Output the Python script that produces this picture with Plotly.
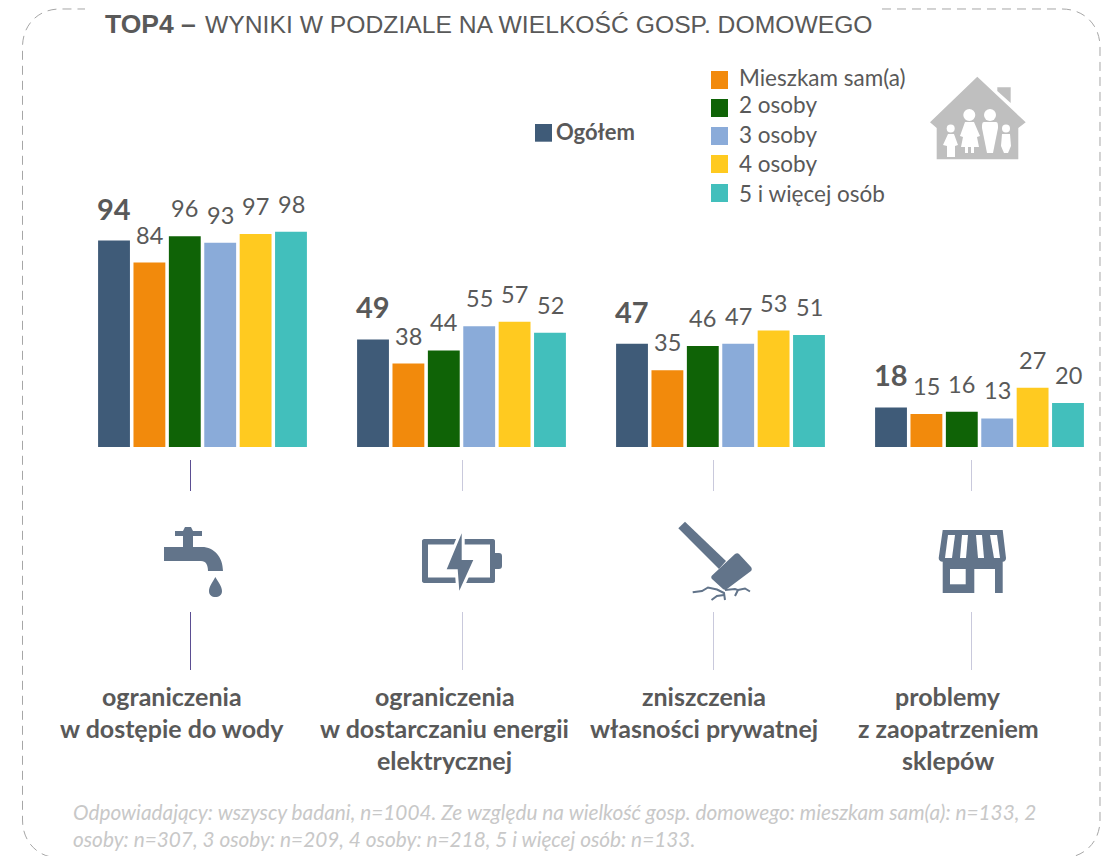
import re
import plotly.graph_objects as go

W, H = 1109, 856
categories = ["ograniczenia w dostępie do wody", "ograniczenia w dostarczaniu energii elektrycznej",
              "zniszczenia własności prywatnej", "problemy z zaopatrzeniem sklepów"]
series_names = ["Ogółem", "Mieszkam sam(a)", "2 osoby", "3 osoby", "4 osoby", "5 i więcej osób"]
ogolem = [94, 49, 47, 18]
sam = [84, 38, 35, 15]
dwie = [96, 44, 46, 16]
trzy = [93, 55, 47, 13]
cztery = [97, 57, 53, 27]
piec = [98, 52, 51, 20]
all_values = [ogolem, sam, dwie, trzy, cztery, piec]
colors = ["#3F5B78", "#F28A0C", "#0F6306", "#8AABD9", "#FFCA20", "#42BFBC"]

cat_lines = [["ograniczenia", "w dostępie do wody"],
             ["ograniczenia", "w dostarczaniu energii", "elektrycznej"],
             ["zniszczenia", "własności prywatnej"],
             ["problemy", "z zaopatrzeniem", "sklepów"]]
cat_x = [172, 444.5, 703.5, 948]
cat_y = [696, 728, 760]
foot = ["Odpowiadający: wszyscy badani, n=1004. Ze względu na wielkość gosp. domowego: mieszkam sam(a): n=133, 2",
        "osoby: n=307, 3 osoby: n=209, 4 osoby: n=218, 5 i więcej osób: n=133."]

FONT = "Lato"
TXT = "#595959"
ICON = "#62748A"
HOUSE = "#BFBFBF"


def fx(x): return x / W
def fy(y): return 1 - y / H


def P(d):
    toks = re.findall(r"[MLCQZ]|-?\d+\.?\d*", d)
    out, i = [], 0
    while i < len(toks):
        t = toks[i]
        if t in "MLCQZ":
            out.append(t)
            i += 1
        else:
            out.append(f"{fx(float(t)):.5f},{fy(float(toks[i + 1])):.5f}")
            i += 2
    return " ".join(out)


shapes = []


def path(d, fill=None, line=None, width=0, dash=None):
    s = dict(type="path", path=P(d), xref="paper", yref="paper",
             fillcolor=fill or "rgba(0,0,0,0)",
             line=dict(color=line or "rgba(0,0,0,0)", width=width))
    if dash:
        s["line"]["dash"] = dash
    shapes.append(s)


def rect(x0, y0, x1, y1, fill):
    shapes.append(dict(type="rect", xref="paper", yref="paper", x0=fx(x0), x1=fx(x1),
                       y0=fy(y1), y1=fy(y0), fillcolor=fill, line=dict(width=0)))


def circ(cx, cy, r, fill):
    shapes.append(dict(type="circle", xref="paper", yref="paper", x0=fx(cx - r), x1=fx(cx + r),
                       y0=fy(cy + r), y1=fy(cy - r), fillcolor=fill, line=dict(width=0)))


def vline(x, y0, y1, c):
    shapes.append(dict(type="line", xref="paper", yref="paper", x0=fx(x), x1=fx(x),
                       y0=fy(y0), y1=fy(y1), line=dict(color=c, width=1)))


# dashed frame, left open behind the title
path("M 882 9 L 1062 9 C 1084 9 1100 25 1100 47 L 1100 820 C 1100 842 1084 858 1062 858 "
     "L 60 858 C 38 858 22.5 842 22.5 820 L 22.5 47 C 22.5 25 38 9 60 9 L 85 9",
     line="#A6A6A6", width=1, dash="9px,6px")

# separators
sep = ["#5B4E92", "#C9C9DC", "#C9C9DC", "#C9C9DC"]
for x, c in zip([190.5, 462.5, 713.5, 971.5], sep):
    vline(x, 460, 491, c)
    vline(x, 612, 670, c)

# tap
path("M 175 531 L 183 531 L 185 527 L 191 527 L 193 531 L 202 531 L 202 536 L 193 536 L 193 547 L 202 547 "
     "C 214 547 223 557 223 571 L 208 571 C 208 565 206 561 201 561 L 164 561 L 164 547 L 183 547 L 183 536 L 175 536 Z",
     fill=ICON)
path("M 215.3 577 C 218 582 222 586 222 591 C 222 595 219 597 215.3 597 C 212 597 209 595 209 591 C 209 586 213 582 215.3 577 Z", fill=ICON)

# battery
path("M 424 539 L 493 539 C 494.5 539 495 540 495 541 L 495 553 L 499 553 C 501 553 502 554 502 556 L 502 566 "
     "C 502 568 501 569 499 569 L 495 569 L 495 581 C 495 582 494.5 583 493 583 L 424 583 C 423 583 422 582 422 581 L 422 541 C 422 540 423 539 424 539 Z",
     fill=ICON)
rect(428, 544.5, 490, 577.5, "#FFFFFF")
bolt = "M 461.7 533.3 L 446.7 569.3 L 457.7 569.3 L 459.3 590.7 L 473.3 560 L 461.7 560 Z"
path(bolt, fill="#FFFFFF", line="#FFFFFF", width=6)
path(bolt, fill=ICON)

# hammer
path("M 685 521.7 L 726 561 L 719 569 L 678.3 528.3 Z", fill=ICON)
path("M 735 554 C 736.5 553 738 553 739 554 L 751 567 C 752 568.5 752 570 751 571 L 727 589 C 725.5 590 724 590 723 589 "
     "L 712 579 C 711 578 711 576.5 712 575.5 Z", fill=ICON)
path("M 692.7 592.3 L 702 591 L 708 587.5 L 717 589.5 L 724 593 L 725 600", line=ICON, width=2)
path("M 711.5 600 L 717 596 L 724 595", line=ICON, width=2)
path("M 725 590 L 735 589 L 738 590 L 735 596", line=ICON, width=2)
path("M 738 590 L 745 588.5 L 750 591.5", line=ICON, width=2)

# shop
path("M 942.7 530 L 1002.7 530 L 1006 558 C 1006 560 1005 561.7 1002.7 561.7 L 1002.7 593 L 942.7 593 L 942.7 561.7 "
     "C 940 561.7 938.7 560 938.7 558 Z", fill=ICON)
rect(950, 569, 965.7, 584.3, "#FFFFFF")
rect(974.3, 569, 995, 593, "#FFFFFF")
for a, b, c, d in [(948, 955, 952, 945), (962, 968, 966, 960), (976, 982, 984, 978), (990, 997, 1000, 994)]:
    path(f"M {a} 535 L {b} 535 L {c} 558 L {d} 558 Z", fill="#FFFFFF")

# house
path("M 977.3 76.7 L 1025.7 122.3 L 1018.3 128 L 1018.3 159.3 L 936.7 159.3 L 936.7 128 L 930 122.3 Z", fill=HOUSE)
path("M 997.3 87.3 L 1010.7 87.3 L 1010.7 103 L 997.3 91 Z", fill=HOUSE)
for cx, cy, r in [(950.7, 128.5, 4), (969.3, 115, 6), (990, 115, 6), (1006, 128.5, 4)]:
    circ(cx, cy, r, "#FFFFFF")
path("M 948 134 L 954 134 L 958 145 L 955 146 L 955 157 L 952 157 L 950 157 L 947 157 L 947 146 L 943 145 Z", fill="#FFFFFF")
path("M 965 122 L 974 122 L 980 136 L 977 137 L 979 147 L 974 147 L 974 153 L 971 153 L 971 147 L 968 147 L 968 153 L 965 153 L 965 147 L 961 147 L 963 137 L 960 136 Z", fill="#FFFFFF")
path("M 984 122 L 996 122 C 998 122 998 125 998 128 L 993 153 L 987 153 L 982 128 C 982 125 982 122 984 122 Z", fill="#FFFFFF")
path("M 1002 134 L 1010 134 L 1011 146 L 1008 153 L 1004 153 L 1001 146 Z", fill="#FFFFFF")

ann = []


def label(x, y, text, size, bold=False, color=TXT, anchor="center", italic=False, font=FONT):
    t = f"<b>{text}</b>" if bold else text
    if italic:
        t = f"<i>{t}</i>"
    ann.append(dict(text=t, x=fx(x), y=fy(y), xref="paper", yref="paper", xanchor=anchor, yanchor="middle",
                    showarrow=False, font=dict(family=font, size=size, color=color)))


# title
label(103, 24, "TOP4 –", 26.5, bold=True, anchor="left", font="Liberation Sans")
label(203, 25, "WYNIKI W PODZIALE NA WIELKOŚĆ GOSP. DOMOWEGO", 24.7, anchor="left", font="Liberation Sans")

# legend
rect(535, 124, 552, 141.7, colors[0])
label(554, 131, series_names[0], 22, bold=True, anchor="left")
for name, c, y0, ty in zip(series_names[1:], colors[1:], [71, 99, 127, 155, 184], [78, 105, 134, 163, 194]):
    rect(711, y0, 728, y0 + 18, c)
    label(736.5, ty, name, 22.5, anchor="left")

# category names and footnote
for lines, x in zip(cat_lines, cat_x):
    for line, y in zip(lines, cat_y):
        label(x, y, line, 25, bold=True)
label(71, 811, foot[0], 20.8, anchor="left", italic=True, color="#C8C8C8")
label(71, 838, foot[1], 20.8, anchor="left", italic=True, color="#C8C8C8")

fig = go.Figure()
for name, vals, c in zip(series_names, all_values, colors):
    fig.add_bar(x=categories, y=vals, name=name, marker=dict(color=c, line=dict(width=0)), showlegend=False)

# value labels: read from the same values, placed through the data axes
pitch = 35.4
for k, vals in enumerate(all_values):
    for cat, v in zip(categories, vals):
        ann.append(dict(text=f"<b>{v}</b>" if k == 0 else str(v), x=cat, y=v, xref="x", yref="y",
                        xanchor="center", yanchor="bottom", xshift=(k - 2.5) * pitch, yshift=12 if k else 13,
                        showarrow=False,
                        font=dict(family=FONT, size=29 if k == 0 else 23.5, color=TXT)))

fig.update_layout(
    width=W, height=H, margin=dict(l=0, r=0, t=0, b=0), autosize=False,
    paper_bgcolor="#FFFFFF", plot_bgcolor="rgba(0,0,0,0)",
    barmode="group", bargap=0.18, bargroupgap=0.1, showlegend=False,
    xaxis=dict(domain=[fx(73), 1], range=[-0.5, 3.5], type="category", visible=False, categoryorder="array", categoryarray=categories),
    yaxis=dict(domain=[fy(447), fy(227.4)], range=[0, 100], visible=False),
    shapes=shapes, annotations=ann, font=dict(family=FONT, color=TXT),
)
fig.write_html("out.html", config=dict(displayModeBar=False),
               post_script="document.body.style.margin='0';document.body.style.overflow='hidden';")
